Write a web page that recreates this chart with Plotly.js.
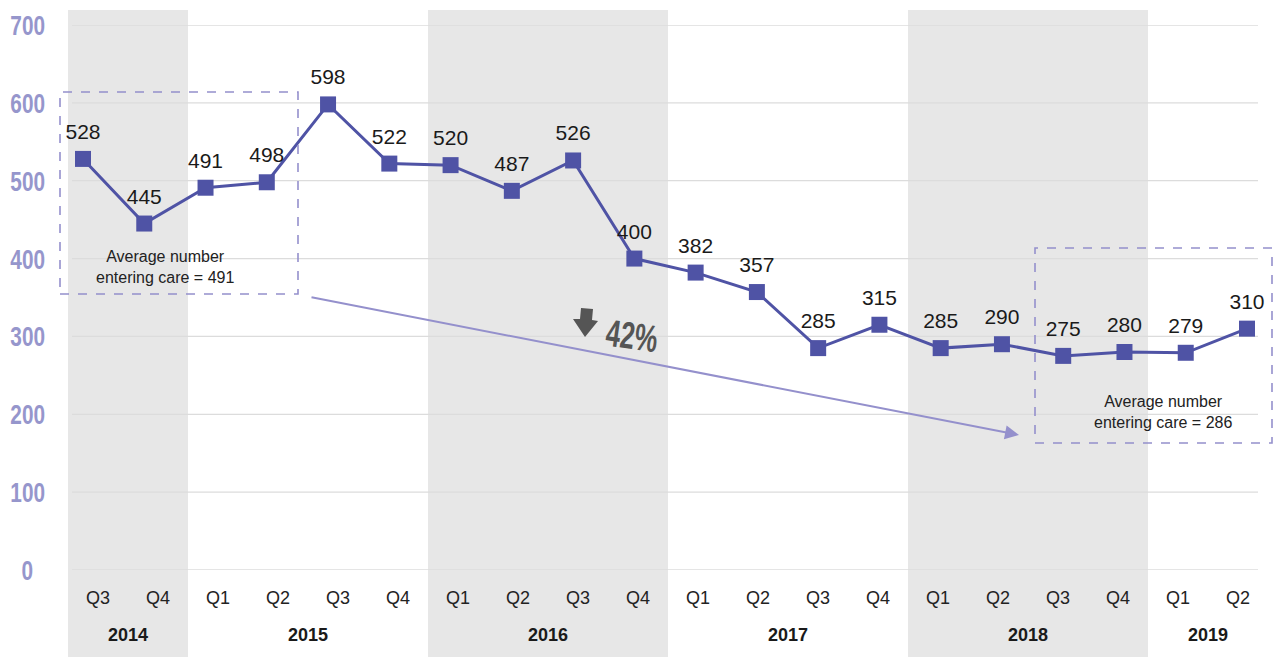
<!DOCTYPE html>
<html>
<head>
<meta charset="utf-8">
<script src="https://cdn.plot.ly/plotly-3.0.1.min.js"></script>
<style>html,body{margin:0;padding:0;background:#fff;}#chart{width:1276px;height:657px;}</style>
</head>
<body>
<div id="chart"></div>
<script>
// ---- data ----
const quarters = ["Q3","Q4","Q1","Q2","Q3","Q4","Q1","Q2","Q3","Q4","Q1","Q2","Q3","Q4","Q1","Q2","Q3","Q4","Q1","Q2"];
const years    = ["2014","2014","2015","2015","2015","2015","2016","2016","2016","2016","2017","2017","2017","2017","2018","2018","2018","2018","2019","2019"];
const entering = [528,445,491,498,598,522,520,487,526,400,382,357,285,315,285,290,275,280,279,310];
const shadedYears = ["2014","2016","2018"];
const yTicks = [0,100,200,300,400,500,600,700];
const avgBefore = 491;
const avgAfter = 286;
const dropLabel = "42%";

// ---- layout helpers ----
const W = 1276, H = 657;
const L = 68, R = 8, T = 25, B = 87;
const plotW = W - L - R, plotH = H - T - B;
const px2x = p => (p - L) / plotW;
const px2y = p => (H - B - p) / plotH;

const idx = quarters.map((_, i) => i);

// year groups
const groups = [];
years.forEach((y, i) => {
  const g = groups[groups.length - 1];
  if (g && g.year === y) g.end = i; else groups.push({year: y, start: i, end: i});
});

const shapes = [];
groups.forEach(g => {
  if (shadedYears.includes(g.year)) {
    shapes.push({type: 'rect', xref: 'x', yref: 'paper', x0: g.start - 0.5, x1: g.end + 0.5,
      y0: px2y(657), y1: px2y(10), fillcolor: '#e7e7e7', line: {width: 0}, layer: 'below'});
  }
});
yTicks.forEach(v => {
  shapes.push({type: 'line', xref: 'paper', yref: 'y', x0: px2x(72), x1: px2x(1258), y0: v, y1: v,
    line: {color: '#dcdcdc', width: 1.3}, layer: 'below'});
});
// dashed boxes
shapes.push({type: 'rect', xref: 'paper', yref: 'paper', x0: px2x(60), x1: px2x(298), y0: px2y(294), y1: px2y(92),
  line: {color: '#9490cc', width: 1.6, dash: 'dash'}, fillcolor: 'rgba(0,0,0,0)'});
shapes.push({type: 'rect', xref: 'paper', yref: 'paper', x0: px2x(1035), x1: px2x(1272), y0: px2y(443), y1: px2y(248),
  line: {color: '#9490cc', width: 1.6, dash: 'dash'}, fillcolor: 'rgba(0,0,0,0)'});
// thick down arrow icon
const arrowPts = [[581,308],[593,309],[592,320],[598,321],[585,337],[573,319],[580,319]];
shapes.push({type: 'path', xref: 'paper', yref: 'paper',
  path: 'M' + arrowPts.map(p => px2x(p[0]) + ',' + px2y(p[1])).join(' L') + ' Z',
  fillcolor: '#555555', line: {width: 0}});

const annotations = [];
const squeeze = {}; // annotation index -> {sx, sy, rot}
groups.forEach(g => {
  annotations.push({xref: 'x', yref: 'paper', x: (g.start + g.end) / 2, y: px2y(635), text: '<b>' + g.year + '</b>',
    showarrow: false, font: {family: 'Liberation Sans, Arial', size: 18, color: '#1a1a1a'}, xanchor: 'center', yanchor: 'middle'});
});
yTicks.forEach(v => {
  squeeze[annotations.length] = {sx: 0.8, sy: 1.08, rot: 0};
  annotations.push({xref: 'paper', yref: 'y', x: px2x(27), y: v, text: '<b>' + v + '</b>', showarrow: false,
    font: {family: 'Liberation Sans, Arial', size: 26, color: '#9696cc'},
    xanchor: 'center', yanchor: 'middle'});
});
annotations.push({xref: 'paper', yref: 'paper', x: px2x(165), y: px2y(267), xanchor: 'center', yanchor: 'middle',
  text: 'Average number<br>entering care = ' + avgBefore, showarrow: false, align: 'center',
  font: {family: 'Liberation Sans, Arial', size: 16, color: '#222'}});
annotations.push({xref: 'paper', yref: 'paper', x: px2x(1163), y: px2y(412), xanchor: 'center', yanchor: 'middle',
  text: 'Average number<br>entering care = ' + avgAfter, showarrow: false, align: 'center',
  font: {family: 'Liberation Sans, Arial', size: 16, color: '#222'}});
// trend arrow
annotations.push({xref: 'paper', yref: 'paper', x: px2x(1019), y: px2y(435), ax: 310 - 1019, ay: 297 - 435,
  axref: 'pixel', ayref: 'pixel', text: '', showarrow: true, arrowhead: 2, arrowsize: 1.4, arrowwidth: 2, arrowcolor: '#9490cc'});
squeeze[annotations.length] = {sx: 0.68, sy: 1, rot: 8};
annotations.push({xref: 'paper', yref: 'paper', x: px2x(632), y: px2y(336), xanchor: 'center', yanchor: 'middle',
  text: '<b>' + dropLabel + '</b>', showarrow: false,
  font: {family: 'Liberation Sans, Arial', size: 38, color: '#555'}});

const lineTrace = {
  x: idx, y: entering, xaxis: 'x2', yaxis: 'y', type: 'scatter', mode: 'lines+markers',
  line: {color: '#4f53a5', width: 3},
  marker: {symbol: 'square', size: 16, color: '#4f53a5'},
  cliponaxis: false, hoverinfo: 'skip'
};
const labelTrace = {
  x: idx, y: entering, xaxis: 'x2', yaxis: 'y', type: 'scatter', mode: 'markers+text',
  text: entering.map(String), textposition: 'top center',
  textfont: {family: 'Liberation Sans, Arial', size: 21, color: '#1a1a1a'},
  marker: {size: 22, color: 'rgba(0,0,0,0)'},
  cliponaxis: false, hoverinfo: 'skip'
};

// line axis: index 0 at pixel 83, index 19 at pixel 1247
const step2 = (1247 - 83) / 19;
const layout = {
  width: W, height: H,
  margin: {l: L, r: R, t: T, b: B},
  paper_bgcolor: '#ffffff', plot_bgcolor: 'rgba(0,0,0,0)',
  showlegend: false,
  xaxis: {range: [-0.5, quarters.length - 0.5], tickvals: idx, ticktext: quarters, ticks: '',
    showgrid: false, zeroline: false, showline: false, ticklabelstandoff: 15,
    tickfont: {family: 'Liberation Sans, Arial', size: 18, color: '#222'}, fixedrange: true},
  xaxis2: {overlaying: 'x', range: [(L - 83) / step2, (L + plotW - 83) / step2], visible: false, fixedrange: true},
  yaxis: {range: [0, 700], showgrid: false, zeroline: false, showticklabels: false, ticks: '', fixedrange: true},
  shapes: shapes,
  annotations: annotations
};

Plotly.newPlot('chart', [lineTrace, labelTrace], layout, {displayModeBar: false, staticPlot: true}).then(gd => {
  // condense selected annotation texts (narrow bold look of the original)
  Object.keys(squeeze).forEach(k => {
    const s = squeeze[k];
    const t = gd.querySelector('.annotation[data-index="' + k + '"] text.annotation-text');
    if (!t) return;
    const bb = t.getBBox();
    const cx = bb.x + bb.width / 2, cy = bb.y + bb.height / 2;
    const prev = t.getAttribute('transform') || '';
    t.setAttribute('transform', prev + ' rotate(' + s.rot + ',' + cx + ',' + cy + ') translate(' + cx + ',' + cy + ') scale(' + s.sx + ',' + s.sy + ') translate(' + (-cx) + ',' + (-cy) + ')');
  });
});
</script>
</body>
</html>
